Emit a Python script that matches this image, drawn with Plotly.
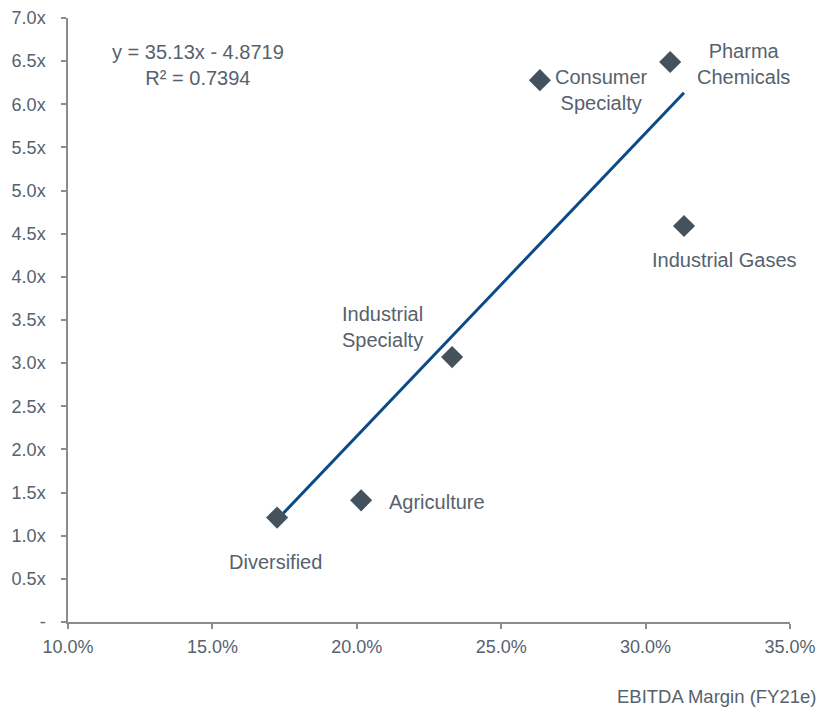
import plotly.graph_objects as go
import numpy as np

# Data
sectors = ["Diversified", "Agriculture", "Industrial Specialty", "Consumer Specialty", "Pharma Chemicals", "Industrial Gases"]
ebitda_margin = [0.1724, 0.2015, 0.2330, 0.2634, 0.3085, 0.3133]
ev_multiple = [1.21, 1.41, 3.07, 6.28, 6.49, 4.59]
label_text = ["Diversified", "Agriculture", "Industrial<br>Specialty", "Consumer<br>Specialty", "Pharma<br>Chemicals", "Industrial Gases"]

slope = 35.13
intercept = -4.8719
r_squared = 0.7394

y_tick_vals = [0, 0.5, 1.0, 1.5, 2.0, 2.5, 3.0, 3.5, 4.0, 4.5, 5.0, 5.5, 6.0, 6.5, 7.0]
y_tick_text = ["-"] + [f"{v:.1f}x" for v in y_tick_vals[1:]]
x_tick_vals = [0.10, 0.15, 0.20, 0.25, 0.30, 0.35]

FONT = "Liberation Sans, Arial, sans-serif"
TXT = "#56626d"
AX = "#8c8c8c"

fig = go.Figure()

x_fit = np.array([min(ebitda_margin), max(ebitda_margin)])
y_fit = slope * x_fit + intercept
fig.add_trace(go.Scatter(x=x_fit, y=y_fit, mode="lines",
                         line=dict(color="#0b4a88", width=3), hoverinfo="skip", showlegend=False))

fig.add_trace(go.Scatter(x=ebitda_margin, y=ev_multiple, mode="markers",
                         marker=dict(symbol="diamond", size=17, color="#44525e"),
                         text=sectors, showlegend=False))

# label offsets (pixels): xshift, yshift, xanchor
offsets = {
    "Diversified": (-2, -44, "center"),
    "Agriculture": (26, -2, "left"),
    "Industrial Specialty": (-70, 30, "center"),
    "Consumer Specialty": (62, -10, "center"),
    "Pharma Chemicals": (73, -2, "center"),
    "Industrial Gases": (40, -34, "center"),
}
for s, x, y, t in zip(sectors, ebitda_margin, ev_multiple, label_text):
    dx, dy, xa = offsets[s]
    fig.add_annotation(x=x, y=y, text=t, showarrow=False, xshift=dx, yshift=dy,
                       xanchor=xa, yanchor="middle", align="center",
                       font=dict(family=FONT, size=20, color=TXT))

fig.add_annotation(xref="paper", yref="paper", x=0.18, y=0.922,
                   text=f"y = {slope:.2f}x - {abs(intercept):.4f}<br>R² = {r_squared:.4f}",
                   showarrow=False, xanchor="center", yanchor="middle", align="center",
                   font=dict(family=FONT, size=20, color=TXT))

fig.add_annotation(xref="paper", yref="paper", x=1.0388, y=-0.124,
                   text="EBITDA Margin (FY21e)", showarrow=False,
                   xanchor="right", yanchor="middle",
                   font=dict(family=FONT, size=18.5, color=TXT))

fig.update_layout(
    width=822, height=710,
    margin=dict(l=68, r=32, t=18, b=88),
    paper_bgcolor="white", plot_bgcolor="white",
    font=dict(family=FONT, size=18, color=TXT),
)
fig.update_xaxes(range=[0.10, 0.35], tickvals=x_tick_vals, tickformat=".1%",
                 showgrid=False, zeroline=False, showline=True, linecolor=AX, linewidth=1.5,
                 ticks="outside", ticklen=5, tickcolor=AX, tickwidth=1.5,
                 ticklabelstandoff=3, automargin=False, ticklabeloverflow="allow",
                 tickfont=dict(family=FONT, size=18, color=TXT))
fig.update_yaxes(range=[0, 7.0], tickvals=y_tick_vals, ticktext=y_tick_text,
                 showgrid=False, zeroline=False, showline=True, linecolor=AX, linewidth=1.5,
                 ticks="outside", ticklen=5, tickcolor=AX, tickwidth=1.5,
                 ticklabelstandoff=12, automargin=False, ticklabeloverflow="allow",
                 tickfont=dict(family=FONT, size=18, color=TXT))

fig.write_html("out.html", config={"displayModeBar": False},
               post_script="document.body.style.margin='0';")
